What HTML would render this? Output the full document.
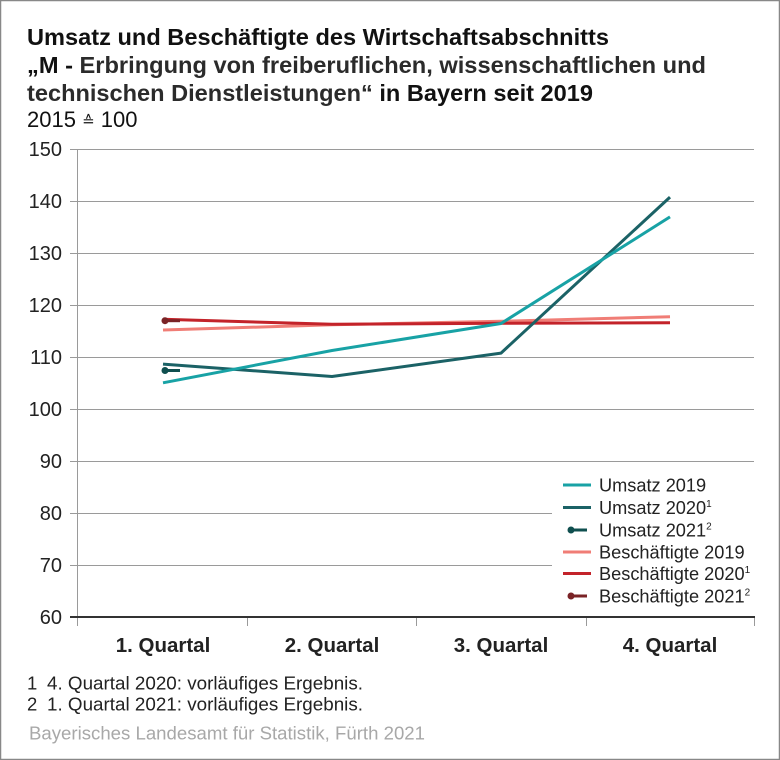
<!DOCTYPE html>
<html><head><meta charset="utf-8"><style>
html,body{margin:0;padding:0;background:#fff;}
svg{display:block;}
text{font-family:"Liberation Sans",Arial,sans-serif;}
</style></head><body>
<svg width="780" height="760" viewBox="0 0 780 760" xmlns="http://www.w3.org/2000/svg">
<rect x="0.5" y="0.5" width="779" height="759" fill="#fff" stroke="#888" stroke-width="1.5"/>
<!-- Title -->
<text x="27" y="45" font-size="23" font-weight="bold" fill="#111" textLength="582" lengthAdjust="spacingAndGlyphs">Umsatz und Beschäftigte des Wirtschaftsabschnitts</text>
<text x="27" y="73" font-size="23" font-weight="bold" fill="#2b2b2b" textLength="679" lengthAdjust="spacingAndGlyphs"><tspan fill="#111">„M -</tspan> Erbringung von freiberuflichen, wissenschaftlichen und</text>
<text x="27" y="101" font-size="23" font-weight="bold" fill="#2b2b2b" textLength="566" lengthAdjust="spacingAndGlyphs">technischen Dienstleistungen“<tspan fill="#111"> in Bayern seit 2019</tspan></text>
<text x="27" y="127" font-size="22" fill="#111">2015 <tspan font-size="15" dy="-1">≙</tspan><tspan dy="1"> 100</tspan></text>
<!-- grid -->
<g stroke="#9a9a9a" stroke-width="1">
<line x1="70" y1="149.5" x2="754" y2="149.5"/>
<line x1="70" y1="201.5" x2="754" y2="201.5"/>
<line x1="70" y1="253.5" x2="754" y2="253.5"/>
<line x1="70" y1="305.5" x2="754" y2="305.5"/>
<line x1="70" y1="357.5" x2="754" y2="357.5"/>
<line x1="70" y1="409.5" x2="754" y2="409.5"/>
<line x1="70" y1="461.5" x2="754" y2="461.5"/>
<line x1="70" y1="513.5" x2="754" y2="513.5"/>
<line x1="70" y1="565.5" x2="754" y2="565.5"/>
<line x1="77.5" y1="149" x2="77.5" y2="617"/>
<line x1="247.5" y1="617" x2="247.5" y2="626"/>
<line x1="416.5" y1="617" x2="416.5" y2="626"/>
<line x1="586.5" y1="617" x2="586.5" y2="626"/>
<line x1="754.5" y1="617" x2="754.5" y2="626"/>
<line x1="77.5" y1="617" x2="77.5" y2="626"/>
</g>
<line x1="70" y1="617" x2="755" y2="617" stroke="#333" stroke-width="2"/>
<!-- y labels -->
<g font-size="20" fill="#222" text-anchor="end">
<text x="62" y="156">150</text>
<text x="62" y="208">140</text>
<text x="62" y="260">130</text>
<text x="62" y="312">120</text>
<text x="62" y="364">110</text>
<text x="62" y="416">100</text>
<text x="62" y="468">90</text>
<text x="62" y="520">80</text>
<text x="62" y="572">70</text>
<text x="62" y="624">60</text>
</g>
<!-- x labels -->
<g font-size="20.5" font-weight="bold" fill="#222" text-anchor="middle">
<text x="163" y="652">1. Quartal</text>
<text x="332" y="652">2. Quartal</text>
<text x="501" y="652">3. Quartal</text>
<text x="670" y="652">4. Quartal</text>
</g>
<!-- series -->
<g fill="none" stroke-width="3" stroke-linejoin="round">
<polyline points="163,330 332,324.8 501,321.3 670,316.7" stroke="#f07d76"/>
<polyline points="163,319.3 332,324.3 501,323.3 670,322.7" stroke="#c3232a"/>
<polyline points="163,364.1 332,376.5 501,353.1 670,197.1" stroke="#1b6266"/>
<polyline points="163,382.8 332,350.5 501,323.5 670,216.9" stroke="#18a2a5"/>
<line x1="164" y1="370.5" x2="180" y2="370.5" stroke="#0f4f4f"/>
<line x1="164" y1="320.7" x2="180" y2="320.7" stroke="#7a2326"/>
</g>
<circle cx="165" cy="370.5" r="3.5" fill="#0f4f4f"/>
<circle cx="165" cy="320.7" r="3.5" fill="#7a2326"/>
<!-- legend -->
<rect x="552" y="470" width="203" height="142" fill="#fff"/>
<g stroke-width="3">
<line x1="563" y1="485" x2="591" y2="485" stroke="#18a2a5"/>
<line x1="563" y1="507.5" x2="591" y2="507.5" stroke="#1b6266"/>
<line x1="571" y1="530" x2="587" y2="530" stroke="#0f4f4f"/>
<line x1="563" y1="552" x2="591" y2="552" stroke="#f07d76"/>
<line x1="563" y1="573.5" x2="591" y2="573.5" stroke="#c3232a"/>
<line x1="571" y1="596" x2="587" y2="596" stroke="#7a2326"/>
</g>
<circle cx="571" cy="530" r="3.5" fill="#0f4f4f"/>
<circle cx="571" cy="596" r="3.5" fill="#7a2326"/>
<g font-size="18.2" fill="#222">
<text x="599" y="491.5">Umsatz 2019</text>
<text x="599" y="514">Umsatz 2020<tspan font-size="10" dy="-7">1</tspan></text>
<text x="599" y="536.5">Umsatz 2021<tspan font-size="10" dy="-7">2</tspan></text>
<text x="599" y="558.5">Beschäftigte 2019</text>
<text x="599" y="580">Beschäftigte 2020<tspan font-size="10" dy="-7">1</tspan></text>
<text x="599" y="602.5">Beschäftigte 2021<tspan font-size="10" dy="-7">2</tspan></text>
</g>
<!-- footnotes -->
<g font-size="18.5" fill="#222">
<text x="27" y="689.5">1</text>
<text x="47" y="689.5" textLength="316" lengthAdjust="spacingAndGlyphs">4. Quartal 2020: vorläufiges Ergebnis.</text>
<text x="27" y="710.5">2</text>
<text x="47" y="710.5" textLength="316" lengthAdjust="spacingAndGlyphs">1. Quartal 2021: vorläufiges Ergebnis.</text>
</g>
<text x="29" y="739.5" font-size="18.5" fill="#a8a8a8" textLength="396" lengthAdjust="spacingAndGlyphs">Bayerisches Landesamt für Statistik, Fürth 2021</text>
</svg>
</body></html>
